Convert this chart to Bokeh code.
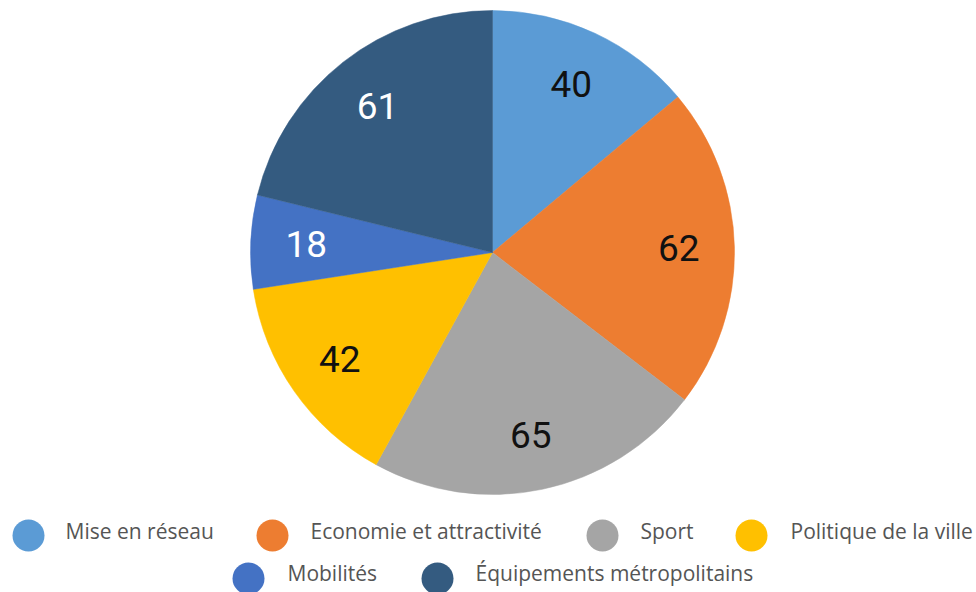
import math
from bokeh.plotting import figure
from bokeh.models import ColumnDataSource, Range1d
from bokeh.core.properties import value
from bokeh.embed import file_html
from bokeh.resources import INLINE

# ---- data ----
categories = ["Mise en réseau", "Economie et attractivité", "Sport",
              "Politique de la ville", "Mobilités", "Équipements métropolitains"]
values = [40, 62, 65, 42, 18, 61]
colors = ["#5B9BD5", "#ED7D31", "#A5A5A5", "#FFC000", "#4472C4", "#345B80"]
label_colors = ["#111111", "#111111", "#111111", "#111111", "#FFFFFF", "#FFFFFF"]

# ---- layout (image pixel coordinates, y downward) ----
W, H = 976, 592
CX, CY, R = 492, 252, 242
LABEL_R = 0.77 * R

# legend layout: rows and x positions (marker centre, text start)
legend_rows = [0, 0, 0, 0, 1, 1]
legend_marker_x = [28, 272, 602, 751, 248, 437]
legend_text_x = [65, 310, 640, 790, 287, 475]
row_marker_y = [535, 578]
row_text_y = [530, 572]

def fy(y):
    return H - y

total = float(sum(values))
starts, ends, lx, ly = [], [], [], []
cum = 0.0
for v in values:
    a0 = math.pi / 2 - 2 * math.pi * cum / total
    a1 = math.pi / 2 - 2 * math.pi * (cum + v) / total
    starts.append(a0)
    ends.append(a1)
    mid = (a0 + a1) / 2
    lx.append(CX + LABEL_R * math.cos(mid))
    ly.append(fy(CY) + LABEL_R * math.sin(mid))
    cum += v

src = ColumnDataSource(dict(start=starts, end=ends, color=colors,
                            lx=lx, ly=ly, txt=[str(v) for v in values],
                            tcol=label_colors))

p = figure(width=W, height=H, x_range=Range1d(0, W), y_range=Range1d(0, H),
           output_backend="svg", toolbar_location=None, min_border=0)
p.axis.visible = False
p.grid.visible = False
p.outline_line_color = None
p.background_fill_color = "white"
p.border_fill_color = "white"

p.wedge(x=CX, y=fy(CY), radius=R, start_angle="start", end_angle="end",
        direction="clock", fill_color="color", line_color="color", line_width=0.5,
        source=src)

p.text(x="lx", y="ly", text="txt", text_color="tcol", text_align="center",
       text_baseline="middle", text_font=value("Roboto"), text_font_size="37px",
       source=src)

leg = ColumnDataSource(dict(
    mx=legend_marker_x,
    my=[fy(row_marker_y[r]) for r in legend_rows],
    tx=legend_text_x,
    ty=[fy(row_text_y[r]) for r in legend_rows],
    name=categories, color=colors))

p.scatter(x="mx", y="my", size=32, marker="circle", fill_color="color",
          line_color=None, source=leg)
p.text(x="tx", y="ty", text="name", text_color="#555555", text_align="left",
       text_baseline="middle", text_font=value("Open Sans"), text_font_size="21px",
       source=leg)

open("out.html", "w").write(file_html(p, INLINE))
